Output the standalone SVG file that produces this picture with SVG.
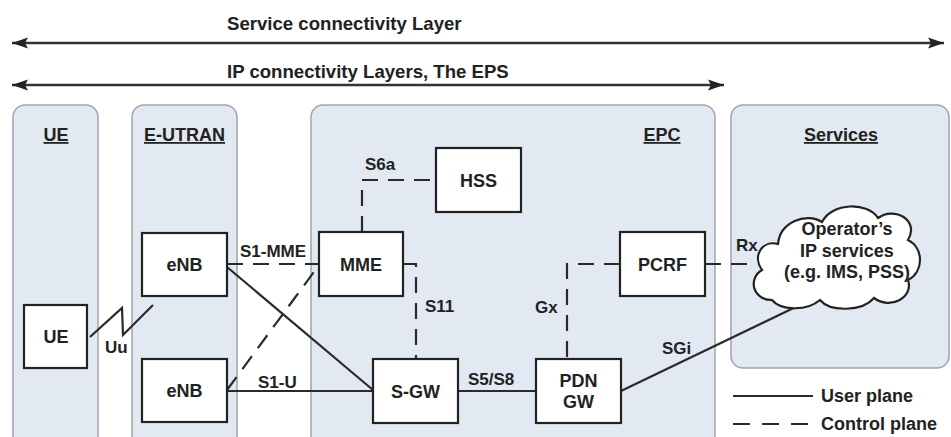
<svg xmlns="http://www.w3.org/2000/svg" width="951" height="437" viewBox="0 0 951 437">
<style>
.panel{fill:#e2e9f2;stroke:#9ea4ad;stroke-width:1.5}
.box{fill:#ffffff;stroke:#222;stroke-width:2.2}
.t{font-family:"Liberation Sans",Arial,sans-serif;font-weight:bold;fill:#222}
.n{font-size:18px;text-anchor:middle}
.l{font-size:17px}
.h{font-size:18px;text-anchor:middle;text-decoration:underline}
.solid{fill:none;stroke:#2a2a2a;stroke-width:2.2}
.dash{fill:none;stroke:#2a2a2a;stroke-width:2.2;stroke-dasharray:16 10}
.layer{fill:none;stroke:#333;stroke-width:2.6}
</style>
<defs>
<marker id="ah" markerUnits="userSpaceOnUse" markerWidth="18" markerHeight="14" refX="16" refY="6" orient="auto-start-reverse" viewBox="0 0 18 12">
<path d="M0,0.5 L16,6 L0,11.5 L3,6 Z" fill="#222"/>
</marker>
</defs>
<rect width="951" height="437" fill="#ffffff"/>

<g id="layers">
<line class="layer" x1="12" y1="43" x2="944" y2="43" marker-start="url(#ah)" marker-end="url(#ah)"/>
<text class="t" x="227" y="30" font-size="18.6">Service connectivity Layer</text>
<line class="layer" x1="12" y1="85" x2="724" y2="85" marker-start="url(#ah)" marker-end="url(#ah)"/>
<text class="t" x="227" y="78" font-size="18.6">IP connectivity Layers, The EPS</text>
</g>

<g id="panel-ue">
<rect class="panel" x="13" y="105" width="85" height="350" rx="12"/>
<text class="t h" x="56" y="141">UE</text>
</g>
<g id="panel-eutran">
<rect class="panel" x="132" y="105" width="105" height="350" rx="12"/>
<text class="t h" x="184.5" y="141">E-UTRAN</text>
</g>
<g id="panel-epc">
<rect class="panel" x="311" y="105" width="404" height="350" rx="12"/>
<text class="t h" x="662" y="141">EPC</text>
</g>
<g id="panel-services">
<rect class="panel" x="731" y="105" width="218" height="263" rx="12"/>
<text class="t h" x="841" y="141">Services</text>
</g>

<g id="connectors">
<polyline class="solid" points="90,337 122,308 123,335 153,305"/>
<line class="dash" x1="227" y1="264" x2="319" y2="264"/>
<line class="solid" x1="227" y1="267" x2="373" y2="390"/>
<line class="dash" x1="227" y1="390" x2="319" y2="265"/>
<line class="solid" x1="227" y1="391" x2="373" y2="391"/>
<path class="dash" d="M362,232 V180 H436"/>
<path class="dash" d="M403,264 H416 V359"/>
<line class="solid" x1="458" y1="391" x2="536" y2="391"/>
<path class="dash" d="M620,264 H567 V359"/>
<line class="dash" x1="705" y1="264" x2="757" y2="264"/>
<line class="solid" x1="621" y1="391" x2="806" y2="302"/>
<text class="t l" x="105" y="353">Uu</text>
<text class="t l" x="240" y="257">S1-MME</text>
<text class="t l" x="258" y="388">S1-U</text>
<text class="t l" x="365" y="170">S6a</text>
<text class="t l" x="425" y="312">S11</text>
<text class="t l" x="468" y="385">S5/S8</text>
<text class="t l" x="535" y="313">Gx</text>
<text class="t l" x="662" y="354">SGi</text>
<text class="t l" x="736" y="251">Rx</text>
</g>

<g id="node-ue">
<rect class="box" x="24" y="305" width="63" height="63"/>
<text class="t n" x="56" y="343">UE</text>
</g>
<g id="node-enb1">
<rect class="box" x="142" y="233" width="85" height="63"/>
<text class="t n" x="184.5" y="271">eNB</text>
</g>
<g id="node-enb2">
<rect class="box" x="142" y="359" width="85" height="63"/>
<text class="t n" x="184.5" y="397">eNB</text>
</g>
<g id="node-mme">
<rect class="box" x="319" y="232" width="84" height="64"/>
<text class="t n" x="361" y="270.5">MME</text>
</g>
<g id="node-hss">
<rect class="box" x="436" y="148" width="85" height="64"/>
<text class="t n" x="478.5" y="186.5">HSS</text>
</g>
<g id="node-pcrf">
<rect class="box" x="620" y="232" width="85" height="64"/>
<text class="t n" x="662.5" y="270.5">PCRF</text>
</g>
<g id="node-sgw">
<rect class="box" x="373" y="359" width="85" height="64"/>
<text class="t n" x="415.5" y="397.5">S-GW</text>
</g>
<g id="node-pdngw">
<rect class="box" x="536" y="359" width="85" height="64"/>
<text class="t n" x="578.5" y="387">PDN</text>
<text class="t n" x="578.5" y="408">GW</text>
</g>
<g id="node-cloud">
<path class="box" d="M772,300 C752,300 748,278 762,270 C752,256 762,240 778,244 C780,222 806,212 822,222 C832,202 868,202 878,218 C894,206 920,220 908,240 C924,248 924,272 908,280 C914,298 890,310 874,298 C862,312 830,312 820,300 C806,312 780,310 772,300 Z"/>
<text class="t n" x="847" y="235">Operator’s</text>
<text class="t n" x="847" y="257">IP services</text>
<text class="t n" x="847" y="278">(e.g. IMS, PSS)</text>
</g>

<g id="legend">
<line class="solid" x1="733" y1="396" x2="813" y2="396"/>
<text class="t" x="821" y="402" font-size="18">User plane</text>
<line class="solid" x1="733" y1="424" x2="813" y2="424" stroke-dasharray="17 12"/>
<text class="t" x="821" y="430" font-size="18">Control plane</text>
</g>
</svg>
